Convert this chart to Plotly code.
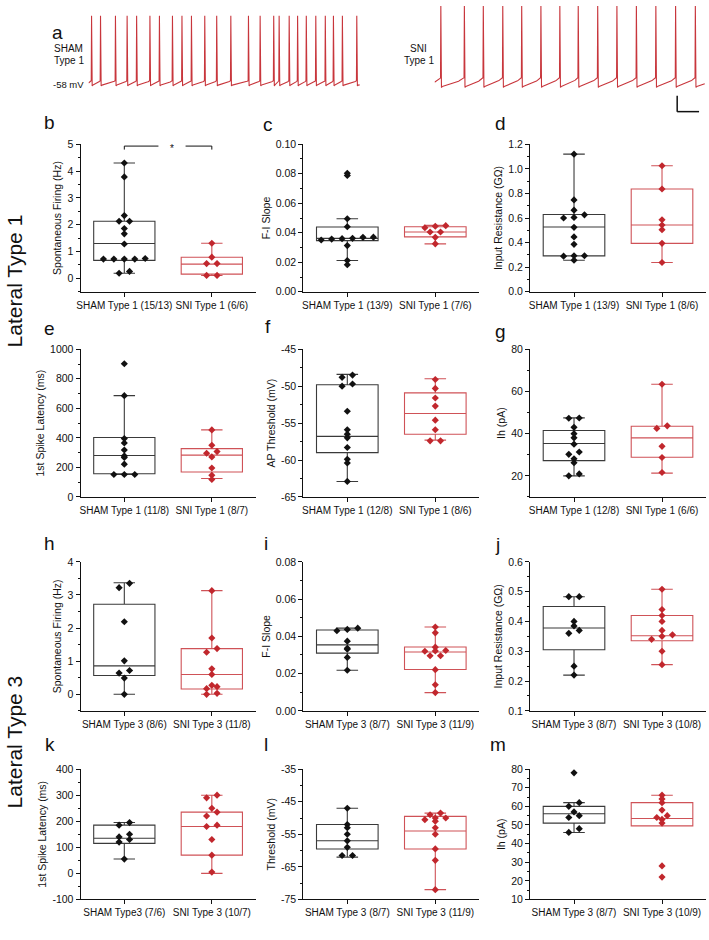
import plotly.graph_objects as go

W, H = 709, 940
FONT = "Arial, 'Liberation Sans', Helvetica, sans-serif"
INK = "#111111"
RED = "#c1272d"
RED_BOX = "#cf5257"
GREY_BOX = "#3a3a3a"
TRACE_RED = "#c8363c"

# ---------------- panel a : spike times (s) ----------------
trace_seconds = 10.0
sham_spike_times = [0.10, 0.43, 0.98, 1.41, 1.76, 2.25, 2.60, 3.08, 3.43, 3.78, 4.27, 4.71,
                    5.23, 5.88, 6.31, 6.81, 7.01, 7.38, 7.69, 8.01, 8.36, 8.71, 9.01, 9.34, 9.87]
sni_spike_times = [0.22, 1.09, 1.79, 2.51, 3.21, 3.92, 4.62, 5.30, 6.02, 6.73, 7.45, 8.17, 8.90, 9.63]
sham_levels_mv = [-61.0, -55.0, 30.0]   # AHP trough, threshold, spike peak
sni_levels_mv = [-63.0, -51.0, 45.0]

# ---------------- box panels: points and [low whisker, Q1, median, Q3, high whisker] ----------------
b_sham = [4.30, 3.78, 2.34, 2.13, 2.13, 1.86, 1.66, 1.28, 0.74, 0.72, 0.72, 0.72, 0.72, 0.19, 0.26]
b_sni = [1.31, 0.79, 0.55, 0.55, 0.11, 0.11]
b_sham_box = [0.19, 0.67, 1.30, 2.13, 4.30]
b_sni_box = [0.11, 0.16, 0.53, 0.79, 1.31]
b_labels = ["SHAM Type 1 (15/13)", "SNI Type 1 (6/6)"]

c_sham = [0.0803, 0.0788, 0.0495, 0.0441, 0.0369, 0.0360, 0.0351, 0.0357, 0.0370, 0.0362, 0.0313, 0.0212, 0.0183]
c_sni = [0.0434, 0.0405, 0.0405, 0.0448, 0.0444, 0.0369, 0.0325]
c_sham_box = [0.0212, 0.0347, 0.0362, 0.0439, 0.0495]
c_sni_box = [0.0325, 0.0372, 0.0405, 0.0441, 0.0450]
c_labels = ["SHAM Type 1 (13/9)", "SNI Type 1 (7/6)"]

d_sham = [1.119, 0.747, 0.664, 0.600, 0.605, 0.626, 0.524, 0.446, 0.386, 0.293, 0.293, 0.290, 0.257]
d_sni = [1.025, 0.836, 0.586, 0.543, 0.505, 0.394, 0.238]
d_sham_box = [0.257, 0.292, 0.527, 0.629, 1.119]
d_sni_box = [0.238, 0.394, 0.543, 0.836, 1.025]
d_labels = ["SHAM Type 1 (13/9)", "SNI Type 1 (8/6)"]

e_sham = [902, 686, 395, 365, 318, 278, 267, 222, 152, 152, 152]
e_sni = [454, 350, 307, 296, 271, 196, 147, 118]
e_sham_box = [152, 157, 281, 403, 686]
e_sni_box = [125, 169, 283, 327, 454]
e_labels = ["SHAM Type 1 (11/8)", "SNI Type 1 (8/7)"]

f_sham = [-48.8, -48.5, -49.7, -50.0, -53.4, -55.9, -56.5, -57.0, -58.3, -59.9, -60.4, -62.9]
f_sni = [-49.1, -50.3, -51.6, -52.7, -54.6, -55.9, -57.4, -57.4]
f_sham_box = [-62.9, -59.0, -56.8, -49.8, -48.4]
f_sni_box = [-57.3, -56.5, -53.7, -50.9, -49.0]
f_labels = ["SHAM Type 1 (12/8)", "SNI Type 1 (8/6)"]

g_sham = [47.4, 47.3, 43.0, 40.0, 38.0, 35.0, 31.3, 30.2, 28.1, 26.2, 20.9, 20.0]
g_sni = [63.4, 43.7, 42.5, 34.0, 28.7, 21.6]
g_sham_box = [20.0, 27.2, 35.3, 41.5, 47.5]
g_sni_box = [21.3, 28.8, 38.0, 43.5, 63.4]
g_labels = ["SHAM Type 1 (12/8)", "SNI Type 1 (6/6)"]

h_sham = [3.35, 3.22, 2.19, 1.01, 0.72, 0.64, 0.49, 0.0]
h_sni = [3.13, 1.70, 1.38, 1.27, 0.77, 0.60, 0.27, 0.23, 0.17, 0.03, 0.0]
h_sham_box = [0.0, 0.57, 0.86, 2.72, 3.37]
h_sni_box = [0.0, 0.16, 0.60, 1.38, 3.13]
h_labels = ["SHAM Type 3 (8/6)", "SNI Type 3 (11/8)"]

i_sham = [0.0444, 0.0437, 0.0430, 0.0374, 0.0336, 0.0331, 0.0287, 0.0218]
i_sni = [0.0450, 0.0419, 0.0342, 0.0322, 0.0324, 0.0320, 0.0296, 0.0296, 0.0221, 0.0140, 0.0098]
i_sham_box = [0.0218, 0.0310, 0.0354, 0.0434, 0.0444]
i_sni_box = [0.0098, 0.0222, 0.0316, 0.0343, 0.0450]
i_labels = ["SHAM Type 3 (8/7)", "SNI Type 3 (11/9)"]

j_sham = [0.483, 0.483, 0.40, 0.385, 0.37, 0.36, 0.25, 0.22]
j_sni = [0.508, 0.44, 0.42, 0.40, 0.37, 0.355, 0.35, 0.34, 0.30, 0.255]
j_sham_box = [0.22, 0.305, 0.378, 0.45, 0.483]
j_sni_box = [0.255, 0.335, 0.352, 0.42, 0.508]
j_labels = ["SHAM Type 3 (8/7)", "SNI Type 3 (10/8)"]

k_sham = [195, 185, 150, 140, 130, 120, 55]
k_sni = [300, 290, 250, 235, 220, 185, 180, 130, 70, 5]
k_sham_box = [55, 115, 135, 185, 195]
k_sni_box = [0, 70, 180, 235, 300]
k_labels = ["SHAM Type3 (7/6)", "SNI Type 3 (10/7)"]

l_sham = [-47.0, -52.0, -53.0, -55.0, -57.0, -59.0, -61.5, -61.5]
l_sni = [-48.5, -49.0, -50.0, -50.0, -50.5, -51.0, -53.0, -55.0, -59.5, -63.0, -72.0]
l_sham_box = [-62.0, -59.5, -57.0, -52.0, -47.0]
l_sni_box = [-72.0, -59.5, -54.0, -49.5, -48.5]
l_labels = ["SHAM Type 3 (8/7)", "SNI Type 3 (11/9)"]

m_sham = [78, 62, 60, 57, 55, 54, 48, 46]
m_sni = [66, 64, 62, 58, 55, 54, 53, 51, 28, 22]
m_sham_box = [46, 51, 56, 60, 62]
m_sni_box = [50, 49.5, 53.5, 62, 66]
m_labels = ["SHAM Type 3 (8/7)", "SNI Type 3 (10/9)"]

# ---------------- layout geometry (pixels) ----------------
COLS = [(77, 253), (301, 478), (529, 706)]
ROWS = [(140, 289.5), (347.7, 497.3), (563, 714), (773, 905)]

panels = [
    ("b", 0, 0, b_sham, b_sni, b_sham_box, b_sni_box, b_labels, "Spontaneous Firing (Hz)", (-0.5, 5), (0, 5, 1, 0), (46, 118)),
    ("c", 1, 0, c_sham, c_sni, c_sham_box, c_sni_box, c_labels, "F-I Slope", (0, 0.10), (0, 0.10, 0.02, 2), (266, 120)),
    ("d", 2, 0, d_sham, d_sni, d_sham_box, d_sni_box, d_labels, "Input Resistance (GΩ)", (0, 1.2), (0, 1.2, 0.2, 1), (499, 119)),
    ("e", 0, 1, e_sham, e_sni, e_sham_box, e_sni_box, e_labels, "1st Spike Latency (ms)", (0, 1000), (0, 1000, 200, 0), (46, 327)),
    ("f", 1, 1, f_sham, f_sni, f_sham_box, f_sni_box, f_labels, "AP Threshold (mV)", (-65, -45), (-65, -45, 5, 0), (265, 325)),
    ("g", 2, 1, g_sham, g_sni, g_sham_box, g_sni_box, g_labels, "Ih (pA)", (10, 80), (20, 80, 20, 0), (499, 330)),
    ("h", 0, 2, h_sham, h_sni, h_sham_box, h_sni_box, h_labels, "Spontaneous Firing (Hz)", (-0.5, 4), (0, 4, 1, 0), (46, 544)),
    ("i", 1, 2, i_sham, i_sni, i_sham_box, i_sni_box, i_labels, "F-I Slope", (0, 0.08), (0, 0.08, 0.02, 2), (263, 544)),
    ("j", 2, 2, j_sham, j_sni, j_sham_box, j_sni_box, j_labels, "Input Resistance (GΩ)", (0.1, 0.6), (0.1, 0.6, 0.1, 1), (496, 545)),
    ("k", 0, 3, k_sham, k_sni, k_sham_box, k_sni_box, k_labels, "1st Spike Latency (ms)", (-100, 400), (-100, 400, 100, 0), (46, 748)),
    ("l", 1, 3, l_sham, l_sni, l_sham_box, l_sni_box, l_labels, "Threshold (mV)", (-75, -35), (-75, -35, 10, 0), (263, 748)),
    ("m", 2, 3, m_sham, m_sni, m_sham_box, m_sni_box, m_labels, "Ih (pA)", (10, 80), (10, 80, 10, 0), (497, 748)),
]


def fx(px):
    return px / W


def fy(px):
    return 1 - px / H


def axname(n, kind):
    return kind + ("axis" if n == 1 else f"axis{n}")


def axref(n, kind):
    return kind if n == 1 else f"{kind}{n}"


def swarm(values, center, ppu_y, ppu_x, bin_px=5.5, step_px=10.5):
    order = sorted(range(len(values)), key=lambda i: values[i])
    bins = {}
    for i in order:
        bins.setdefault(round(values[i] * ppu_y / bin_px), []).append(i)
    xs = [center] * len(values)
    for idx in bins.values():
        n = len(idx)
        for k, i in enumerate(idx):
            xs[i] = center + (k - (n - 1) / 2) * step_px / ppu_x
    return xs


fig = go.Figure()
layout = dict(
    width=W, height=H, margin=dict(l=0, r=0, t=0, b=0),
    paper_bgcolor="white", plot_bgcolor="white", showlegend=False,
    font=dict(family=FONT, size=10, color=INK),
)
annotations = []
shapes = []

for n, (letter, col, row, sham, sni, sbox, nbox, labels, ytitle, yr, tk, lpos) in enumerate(panels, start=1):
    x0, x1 = COLS[col]
    y0, y1 = ROWS[row]
    ppu_x = (x1 - x0) / 2.0
    ppu_y = (y1 - y0) / (yr[1] - yr[0])
    xr, yrf = axref(n, "x"), axref(n, "y")
    for c, pts, box, bcol, pcol in ((1, sham, sbox, GREY_BOX, INK), (2, sni, nbox, RED_BOX, RED)):
        fig.add_trace(go.Box(
            x=[c], lowerfence=[box[0]], q1=[box[1]], median=[box[2]], q3=[box[3]], upperfence=[box[4]],
            width=0.70, whiskerwidth=0.35, boxpoints=False,
            line=dict(color=bcol, width=1.1), fillcolor="rgba(0,0,0,0)",
            xaxis=xr, yaxis=yrf, hoverinfo="skip"))
        fig.add_trace(go.Scatter(
            x=swarm(pts, c, ppu_y, ppu_x), y=pts, mode="markers",
            marker=dict(symbol="diamond", size=5.5, color=pcol, line=dict(width=0)),
            xaxis=xr, yaxis=yrf, hoverinfo="skip", cliponaxis=False))
    t_first, t_last, step, dec = tk
    nt = int(round((t_last - t_first) / step))
    tvals = [round(t_first + i * step, 6) for i in range(nt + 1)]
    ttext = [f"{v:.{dec}f}" for v in tvals]
    layout[axname(n, "x")] = dict(
        domain=[fx(x0), fx(x1)], range=[0.5, 2.5], anchor=yrf,
        tickmode="array", tickvals=[1, 2], ticktext=labels, tickangle=0,
        ticks="outside", ticklen=4, tickwidth=1, tickcolor=INK,
        showline=True, linecolor=INK, linewidth=1, showgrid=False, zeroline=False,
        tickfont=dict(size=10, color=INK))
    layout[axname(n, "y")] = dict(
        domain=[fy(y1), fy(y0)], range=list(yr), anchor=xr,
        tickmode="array", tickvals=tvals, ticktext=ttext,
        ticks="outside", ticklen=4, tickwidth=1, tickcolor=INK,
        minor=dict(ticks="outside", ticklen=2, tickcolor=INK, tick0=t_first, dtick=step / 2),
        showline=True, linecolor=INK, linewidth=1, showgrid=False, zeroline=False,
        tickfont=dict(size=10.5, color=INK),
        title=dict(text=ytitle, standoff=3, font=dict(size=10.5, color=INK)))
    annotations.append(dict(text=letter, x=fx(lpos[0]), y=fy(lpos[1]), xref="paper", yref="paper",
                            showarrow=False, xanchor="center", yanchor="middle",
                            font=dict(size=19, color=INK, family=FONT)))

# significance bracket in panel b (categories 1 and 2)
b_top, b_drop = 4.93, 4.80
for xa, xb in ((1, 1.39), (1.70, 2)):
    shapes.append(dict(type="line", xref="x", yref="y", x0=xa, x1=xb, y0=b_top, y1=b_top,
                       line=dict(color=INK, width=1)))
for xa in (1, 2):
    shapes.append(dict(type="line", xref="x", yref="y", x0=xa, x1=xa, y0=b_top, y1=b_drop,
                       line=dict(color=INK, width=1)))
annotations.append(dict(text="*", x=1.545, y=b_top, xref="x", yref="y", showarrow=False,
                        yanchor="middle", yshift=-2, font=dict(size=10, color=INK)))


# ---------------- panel a traces ----------------
def membrane_trace(spikes, t_end, levels):
    trough, thresh, peak = levels
    ts, vs = [], []
    t0, v0 = 0.0, (trough + thresh) / 2
    dt = 0.01
    targets = spikes + [t_end]
    for k, s in enumerate(targets):
        seg = max(int((s - t0) / dt), 1)
        for j in range(seg):
            f = j / seg
            if k == len(spikes):
                f = f * (s - t0) / max(0.7, (s - t0))
            ts.append(t0 + j * (s - t0) / seg)
            vs.append(v0 + (thresh - v0) * (0.72 * f + 0.28 * f ** 5))
        if k == len(spikes):
            break
        ts += [s, s + 0.012, s + 0.035]
        vs += [thresh, peak, trough - 1.0]
        t0, v0 = s + 0.035, trough
    return ts, vs


trace_y = [-73.5, 42.9]
for n, spikes, levels, (px0, px1) in ((13, sham_spike_times, sham_levels_mv, (85, 358)),
                                        (14, sni_spike_times, sni_levels_mv, (433, 705))):
    ts, vs = membrane_trace(spikes, trace_seconds, levels)
    fig.add_trace(go.Scatter(x=ts, y=vs, mode="lines", line=dict(color=TRACE_RED, width=1.1),
                             xaxis=axref(n, "x"), yaxis=axref(n, "y"), hoverinfo="skip"))
    layout[axname(n, "x")] = dict(domain=[fx(px0), fx(px1)], range=[0, trace_seconds], visible=False,
                                 anchor=axref(n, "y"))
    layout[axname(n, "y")] = dict(domain=[fy(90), 1.0], range=trace_y, visible=False,
                                 anchor=axref(n, "x"))

annotations.append(dict(text="a", x=fx(46), y=fy(14), xref="paper", yref="paper", showarrow=False,
                        font=dict(size=19, color=INK, family=FONT)))
for txt, px, py in (("SHAM", 48, 43), ("Type 1", 48, 55), ("SNI", 406, 43), ("Type 1", 400, 55)):
    annotations.append(dict(text=txt, x=fx(px), y=fy(py), xref="paper", yref="paper", showarrow=False,
                            xanchor="left", yanchor="middle", font=dict(size=10, color=INK)))
annotations.append(dict(text="-58 mV", x=fx(82), y=fy(80), xref="paper", yref="paper", showarrow=False,
                        xanchor="right", yanchor="middle", font=dict(size=9.5, color=INK)))

# scale bar
shapes.append(dict(type="line", xref="paper", yref="paper", x0=fx(677), x1=fx(677), y0=fy(91), y1=fy(107),
                   line=dict(color=INK, width=1.5)))
shapes.append(dict(type="line", xref="paper", yref="paper", x0=fx(677), x1=fx(699), y0=fy(107), y1=fy(107),
                   line=dict(color=INK, width=1.5)))

# row group labels
for txt, py in (("Lateral Type 1", 278), ("Lateral Type 3", 745)):
    annotations.append(dict(text=txt, x=fx(11), y=fy(py), xref="paper", yref="paper", showarrow=False,
                            textangle=-90, xanchor="center", yanchor="middle",
                            font=dict(size=21, color=INK, family=FONT)))

layout["annotations"] = annotations
layout["shapes"] = shapes
fig.update_layout(**layout)
fig.write_html("out.html", config={"displayModeBar": False, "staticPlot": True},
               post_script="document.body.style.margin='0px';document.body.style.overflow='hidden';")
